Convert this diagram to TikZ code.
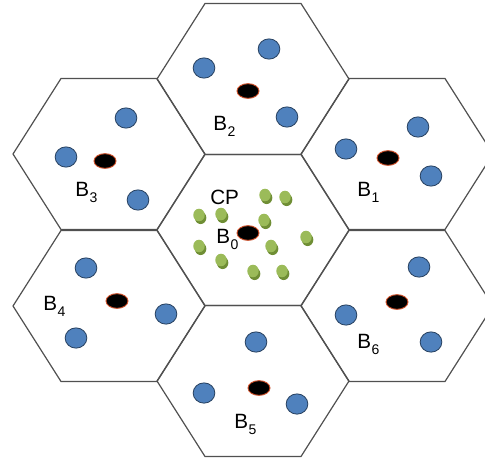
\documentclass[tikz,border=0pt]{standalone}
\usepackage{fontspec}
\setmainfont{Liberation Sans}
\usetikzlibrary{shapes.geometric,shadows}
\definecolor{userblue}{HTML}{4F81BD}
\definecolor{userline}{HTML}{27405F}
\definecolor{bsring}{HTML}{D0502A}
\definecolor{cpgreen}{HTML}{9BBB59}
\definecolor{cpdark}{HTML}{6F8E35}
\definecolor{cellline}{HTML}{505050}
\newcommand\cellname[1]{B\kern0.4pt\raisebox{-5.2pt}{\fontsize{10.5}{12}\selectfont #1}}
\tikzset{
  cell/.pic={\draw[draw=cellline, line width=0.9pt]
     (-96,0) -- (-48,-75.5) -- (48,-75.5) -- (96,0) -- (48,75.5) -- (-48,75.5) -- cycle;},
  ue/.style={ellipse, draw=userline, line width=0.6pt, fill=userblue,
     minimum width=16.3pt, minimum height=15.2pt, inner sep=0pt},
  bs/.style={ellipse, draw=bsring, line width=0.7pt, fill=black,
     minimum width=16.5pt, minimum height=11pt, inner sep=0pt},
  cpue/.style={ellipse, fill=cpgreen, minimum width=8.6pt, minimum height=9.4pt, inner sep=0pt,
     drop shadow={shadow xshift=1.2pt, shadow yshift=-2.1pt, fill=cpdark, opacity=1}},
  lbl/.style={anchor=base west, inner sep=0pt, font=\fontsize{15.5}{18}\selectfont}
}
\begin{document}
\begin{tikzpicture}[x=0.75pt,y=-0.75pt]
\useasboundingbox (0,0) rectangle (485,457);
\clip (0,0) rectangle (485,457);

% seven-cell cluster
\pic at (253,230) {cell};
\pic at (253,79)  {cell};
\pic at (253,381) {cell};
\pic at (109,154) {cell};
\pic at (109,306) {cell};
\pic at (397,154) {cell};
\pic at (397,306) {cell};

% cell B2 (top)
\node[ue] (u21) at (204,68) {};
\node[ue] (u22) at (269,49) {};
\node[ue] (u23) at (287,117) {};
\node[bs] (b2) at (248,91) {};
\node[lbl] (l2) at (213,130) {\cellname{2}};

% cell B3 (upper left)
\node[ue] (u31) at (126,118) {};
\node[ue] (u32) at (66,157) {};
\node[ue] (u33) at (138,200) {};
\node[bs] (b3) at (105,161) {};
\node[lbl] (l3) at (75,196) {\cellname{3}};

% cell B1 (upper right)
\node[ue] (u11) at (418,127) {};
\node[ue] (u12) at (346,149) {};
\node[ue] (u13) at (431,176) {};
\node[bs] (b1) at (388,158) {};
\node[lbl] (l1) at (357,196) {\cellname{1}};

% cell B4 (lower left)
\node[ue] (u41) at (86,268) {};
\node[ue] (u42) at (76,338) {};
\node[ue] (u43) at (166,314) {};
\node[bs] (b4) at (117,301) {};
\node[lbl] (l4) at (43,310) {\cellname{4}};

% cell B6 (lower right)
\node[ue] (u61) at (419,267) {};
\node[ue] (u62) at (346,315) {};
\node[ue] (u63) at (431,342) {};
\node[bs] (b6) at (397,302) {};
\node[lbl] (l6) at (357,348) {\cellname{6}};

% cell B5 (bottom)
\node[ue] (u51) at (256,342) {};
\node[ue] (u52) at (204,393) {};
\node[ue] (u53) at (297,404) {};
\node[bs] (b5) at (259,388) {};
\node[lbl] (l5) at (234,428) {\cellname{5}};

% centre cell B0 with its CP users
\node[cpue] (g1)  at (199,215) {};
\node[cpue] (g2)  at (221,214) {};
\node[cpue] (g3)  at (265,195) {};
\node[cpue] (g4)  at (285,197) {};
\node[cpue] (g5)  at (264,220) {};
\node[cpue] (g6)  at (199,246) {};
\node[cpue] (g7)  at (221,260) {};
\node[cpue] (g8)  at (271,246) {};
\node[cpue] (g9)  at (306,237) {};
\node[cpue] (g10) at (253,271) {};
\node[cpue] (g11) at (282,271) {};
\node[bs] (b0) at (248,233) {};
\node[lbl] (cp) at (210,204) {CP};
\node[lbl] (l0) at (216,243) {\cellname{0}};
\end{tikzpicture}
\end{document}
